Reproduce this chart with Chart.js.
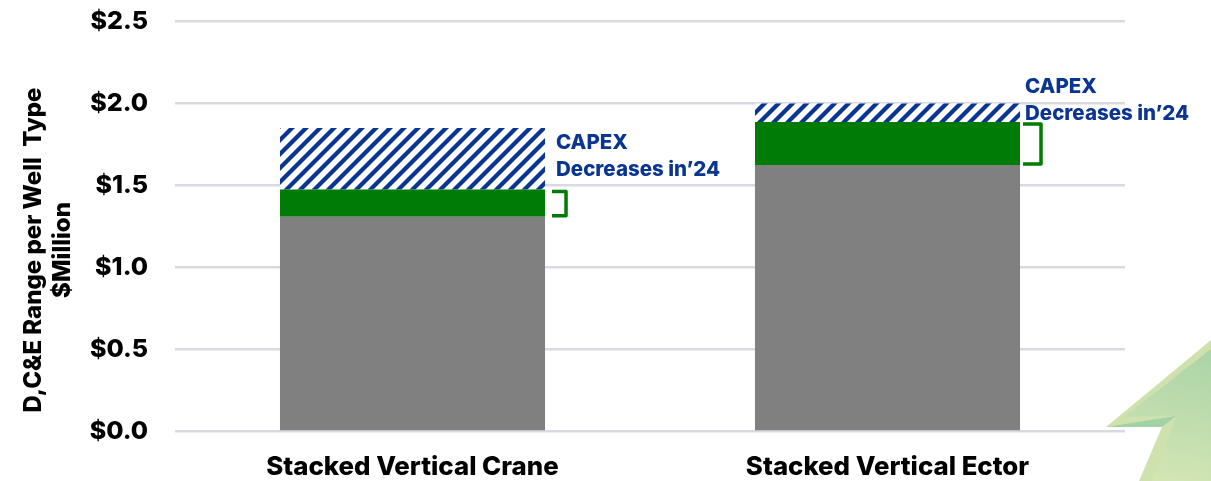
<!DOCTYPE html>
<html>
<head>
<meta charset="utf-8">
<title>D,C&amp;E Range per Well Type</title>
<script src="https://cdn.jsdelivr.net/npm/chart.js@4"></script>
<style>
  html, body { margin: 0; padding: 0; background: #fff; }
  #wrap { position: relative; width: 1211px; height: 481px; overflow: hidden; }
</style>
</head>
<body>
<div id="wrap"><canvas id="chart" width="1211" height="481"></canvas></div>
<script>
'use strict';
// DATA
const categories = ['Stacked Vertical Crane', 'Stacked Vertical Ector'];
const baseCost = [1.31, 1.625];
const capexDecrease = [0.165, 0.262];
const hatchedRange = [0.375, 0.113];
const yTicks = [0, 0.5, 1, 1.5, 2, 2.5];
const axisTitle = ['D,C&E Range per Well  Type', '$Million'];
const noteLines = ['CAPEX', 'Decreases in\u201924'];

const FONT = 'Inter, sans-serif';
const BLUE = '#0a3592';
const GREEN = '#007b05';

// DIAGONAL STRIPES FOR THE TOP SEGMENT
function makeHatch() {
  const tile = document.createElement('canvas');
  tile.width = 14;
  tile.height = 14;
  const c = tile.getContext('2d');
  c.fillStyle = '#fff';
  c.fillRect(0, 0, 14, 14);
  c.strokeStyle = BLUE;
  c.lineWidth = 4.2;
  [[-7, 7, 7, -7], [0, 14, 14, 0], [7, 21, 21, 7]].forEach((l) => {
    c.beginPath();
    c.moveTo(l[0], l[1]);
    c.lineTo(l[2], l[3]);
    c.stroke();
  });
  return c.createPattern(tile, 'repeat');
}

// GREEN ARROW IN THE BOTTOM RIGHT CORNER, UNDER THE CHART
const arrowPlugin = {
  id: 'arrow',
  beforeDraw(chart) {
    const ctx = chart.ctx;
    ctx.save();
    const poly = (pts, fill) => {
      ctx.beginPath();
      pts.forEach((p, i) => (i ? ctx.lineTo(p[0], p[1]) : ctx.moveTo(p[0], p[1])));
      ctx.closePath();
      ctx.fillStyle = fill;
      ctx.fill();
    };
    // light outer shape
    poly([[1106, 427], [1211, 340], [1211, 481], [1139, 481], [1162, 427]], '#cfe2ad');
    // inner body
    const g = ctx.createLinearGradient(1205, 345, 1175, 481);
    g.addColorStop(0, '#a9d3a7');
    g.addColorStop(1, '#d2e5b3');
    poly([[1124, 417], [1211, 349], [1211, 481], [1152, 481], [1176, 416]], g);
    // fold under the arrow head
    poly([[1106, 427], [1176, 416], [1162, 427]], '#a2d2a5');
    ctx.restore();
  },
};

// AXIS TITLE, BRACKETS AND CAPEX NOTES
const notesPlugin = {
  id: 'notes',
  afterDraw(chart) {
    const ctx = chart.ctx;
    const y = chart.scales.y;
    ctx.save();

    ctx.save();
    ctx.translate(34, 250);
    ctx.rotate(-Math.PI / 2);
    ctx.fillStyle = '#000';
    ctx.textAlign = 'center';
    ctx.textBaseline = 'middle';
    ctx.font = '800 24px ' + FONT;
    ctx.fillText(axisTitle[0], 0, 0);
    ctx.fillText(axisTitle[1], 0, 29);
    ctx.restore();

    const bars = chart.getDatasetMeta(1).data;
    const bracketGap = [7, 3];
    bars.forEach((bar, i) => {
      const top = y.getPixelForValue(baseCost[i] + capexDecrease[i]);
      const bottom = y.getPixelForValue(baseCost[i]);
      const edge = bar.x + bar.width / 2;
      const left = edge + bracketGap[i];
      const right = edge + 21;
      ctx.strokeStyle = GREEN;
      ctx.lineWidth = 3.5;
      ctx.lineJoin = 'round';
      ctx.beginPath();
      ctx.moveTo(left, top + 2);
      ctx.lineTo(right, top + 2);
      ctx.lineTo(right, bottom - 1);
      ctx.lineTo(left, bottom - 1);
      ctx.stroke();
    });

    ctx.fillStyle = BLUE;
    ctx.font = '800 20.5px ' + FONT;
    ctx.textAlign = 'left';
    ctx.textBaseline = 'middle';
    const noteBase = [143, 87];
    const noteX = [556, 1025];
    noteX.forEach((x, i) => {
      noteLines.forEach((line, k) => ctx.fillText(line, x, noteBase[i] + k * 26.5));
    });
    ctx.restore();
  },
};

const data = {
  labels: categories,
  datasets: [
    { label: 'Base', data: baseCost, backgroundColor: '#808080' },
    { label: 'CAPEX decrease', data: capexDecrease, backgroundColor: GREEN },
    { label: 'Range', data: hatchedRange, backgroundColor: makeHatch() },
  ],
};

const config = {
  type: 'bar',
  data: data,
  options: {
    responsive: false,
    animation: false,
    barPercentage: 0.558,
    categoryPercentage: 1,
    layout: { autoPadding: false, padding: { left: 0, right: 86, top: 21.5, bottom: 0 } },
    plugins: { legend: { display: false }, tooltip: { enabled: false } },
    scales: {
      x: {
        stacked: true,
        grid: { display: false },
        border: { display: false },
        afterFit: (axis) => {
          axis.height = 49.5;
        },
        ticks: {
          color: '#000',
          font: { family: FONT, size: 25.8, weight: '800' },
          padding: 12,
          maxRotation: 0,
        },
      },
      y: {
        stacked: true,
        min: 0,
        max: 2.5,
        afterBuildTicks: (axis) => {
          axis.ticks = yTicks.map((v) => ({ value: v }));
        },
        afterFit: (axis) => {
          axis.width = 175;
          axis.paddingTop = 0;
          axis.paddingBottom = 0;
        },
        grid: { color: '#d9d9e4', lineWidth: 2.5, drawTicks: false },
        border: { display: false },
        ticks: {
          color: '#000',
          font: { family: FONT, size: 25, weight: '800' },
          padding: 27,
          callback: (v) => '$' + Number(v).toFixed(1),
        },
      },
    },
  },
  plugins: [arrowPlugin, notesPlugin],
};

new Chart(document.querySelector('#chart'), config);
</script>
</body>
</html>
